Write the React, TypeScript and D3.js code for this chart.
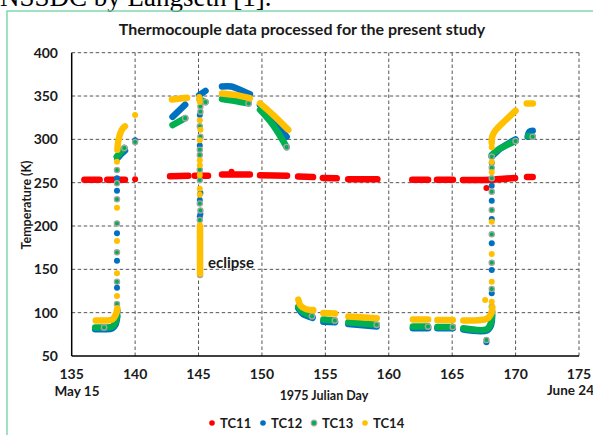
import React from "react";
import * as d3 from "d3";

type Pt = [number, number];

// axis ticks
const xTicks = [135, 140, 145, 150, 155, 160, 165, 170, 175];
const yTicks = [50, 100, 150, 200, 250, 300, 350, 400];
const seriesNames = ["TC11", "TC12", "TC13", "TC14"];

// TC11 (red) - dense runs and single points, [julian day, K]
const tc11Runs: Pt[][] = [
  [[136.0, 253.5], [137.2, 253.5]],
  [[137.8, 253.5], [139.2, 253.5]],
  [[142.75, 257.5], [144.2, 258]],
  [[144.7, 258], [145.75, 258]],
  [[146.85, 259.5], [149.05, 259.5]],
  [[149.85, 258.5], [151.98, 258]],
  [[152.85, 257], [154.03, 256.5]],
  [[154.8, 255.5], [155.9, 255]],
  [[156.8, 254], [159.1, 254]],
  [[161.85, 253.5], [163.1, 253.5]],
  [[163.8, 253.5], [165.06, 253.5]],
  [[165.85, 253], [168.0, 253.5], [169.96, 255.5]],
  [[170.9, 256.5], [171.35, 256.5]],
];
const tc11Dots: Pt[] = [[140.0, 254], [147.6, 262.5], [167.7, 244]];

// TC12 (blue)
const tc12Runs: Pt[][] = [
  [[136.85, 81], [137.6, 81]],
  [[137.75, 81], [138.2, 82], [138.45, 86], [138.6, 96]],
  [[138.6, 278], [138.9, 283], [139.2, 287]],
  [[142.95, 326], [143.95, 340]],
  [[145.05, 351], [145.55, 356]],
  [[146.85, 361], [147.6, 361], [148.3, 357], [149.05, 352]],
  [[149.85, 339.5], [150.9, 322], [151.95, 303]],
  [[152.87, 105], [153.2, 99], [154.0, 94]],
  [[154.84, 89.5], [155.77, 89]],
  [[156.81, 87], [159.05, 84]],
  [[161.9, 82], [163.1, 82]],
  [[163.83, 82], [165.05, 82]],
  [[165.88, 80.5], [167.73, 79.5], [168.05, 85], [168.15, 97]],
  [[168.12, 280], [168.6, 287], [169.3, 294], [170.0, 300]],
  [[170.95, 303], [171.1, 309], [171.35, 310]],
];
const tc12Dots: Pt[] = [
  [138.57, 255], [138.57, 240.7], [138.57, 191.6], [138.57, 160], [138.57, 128.8],
  [140.0, 299],
  [145.1, 328], [145.1, 293], [145.15, 238], [145.1, 230], [145.15, 214], [145.1, 211],
  [168.12, 273], [168.12, 246.5], [168.12, 229.2], [168.12, 208], [168.12, 180],
  [168.12, 149.2], [168.12, 122.3], [167.7, 66],
];

// TC13 (green)
const tc13Runs: Pt[][] = [
  [[136.85, 83], [137.55, 83]],
  [[137.75, 83], [138.2, 84], [138.45, 89], [138.6, 102]],
  [[138.55, 280], [138.85, 285], [139.15, 290]],
  [[142.95, 316.5], [143.95, 324.5]],
  [[145.1, 346], [145.55, 343]],
  [[146.85, 346.5], [148.0, 344], [148.95, 341.5]],
  [[149.85, 334], [150.9, 316], [151.95, 291]],
  [[152.87, 107], [153.2, 101], [153.95, 96]],
  [[154.84, 92], [155.75, 91]],
  [[156.81, 89], [159.05, 86]],
  [[161.9, 84], [163.1, 84]],
  [[163.83, 83.5], [165.05, 83.5]],
  [[165.88, 82], [167.73, 81], [168.05, 88], [168.15, 101]],
  [[168.12, 282], [168.7, 289], [169.4, 294], [170.0, 298]],
  [[171.0, 304], [171.35, 303]],
];
const tc13Dots: Pt[] = [
  [140.0, 297],
  [138.57, 264.6], [138.57, 249.3], [138.57, 230.8], [138.57, 203], [138.57, 169.6],
  [138.57, 135.7], [138.57, 110],
  [145.15, 338], [145.15, 332], [145.1, 315], [145.15, 303], [145.1, 288], [145.1, 282],
  [145.1, 265], [145.1, 253], [145.1, 226], [145.15, 218], [145.1, 207], [145.12, 143.5],
  [168.12, 280], [168.12, 267.3], [168.12, 255], [168.12, 239.6], [168.12, 218.5],
  [168.12, 190.4], [168.12, 157.7], [168.12, 127.3], [168.12, 106.9], [167.7, 68.5],
];

// TC14 (yellow)
const tc14Runs: Pt[][] = [
  [[136.9, 91], [137.6, 91]],
  [[137.8, 91], [138.2, 92], [138.45, 97], [138.6, 105]],
  [[138.6, 288], [138.7, 300], [138.95, 311], [139.2, 315]],
  [[142.9, 346], [144.1, 348]],
  [[145.12, 199], [145.12, 145]],
  [[146.85, 353], [148.0, 351], [149.05, 347.5]],
  [[149.85, 341.5], [150.9, 328], [152.08, 311]],
  [[152.87, 115], [153.05, 108], [153.5, 104], [154.05, 103]],
  [[154.84, 99.5], [155.77, 99]],
  [[156.81, 95.5], [159.05, 93.5]],
  [[161.9, 92], [163.1, 92]],
  [[163.83, 91.5], [165.05, 91.5]],
  [[165.88, 91], [167.73, 93], [168.05, 98], [168.17, 106]],
  [[168.12, 296], [168.15, 303], [168.4, 310], [169.2, 322], [170.0, 333]],
  [[170.88, 341.5], [171.36, 341.5]],
];
const tc14Dots: Pt[] = [
  [140.0, 328],
  [138.57, 274.2], [138.57, 221.1], [138.57, 182.7], [138.57, 145.4], [138.57, 119.2],
  [145.05, 349], [145.1, 347], [145.1, 343], [145.1, 322], [145.15, 311], [145.1, 299],
  [145.1, 276], [145.1, 270], [145.1, 259], [145.1, 243], [145.1, 236], [145.1, 201],
  [145.1, 193], [145.1, 188],
  [167.6, 114.6], [168.12, 290.8], [168.12, 274], [168.12, 262], [168.12, 205],
  [168.12, 167.7], [168.12, 135.7], [168.12, 112.6],
];

const colors = ["#FF0000", "#0070C0", "#00B050", "#FFC000"];
const ring = "#A5A5A5";
const font = "Lato, 'Open Sans', sans-serif";

const App = () => {
  const x = d3.scaleLinear().domain([135, 175]).range([71.7, 579]);
  const y = d3.scaleLinear().domain([50, 400]).range([356, 52.7]);

  const line = d3
    .line<Pt>()
    .x((d) => x(d[0]))
    .y((d) => y(d[1]))
    .curve(d3.curveCatmullRom.alpha(0.5));

  const series = [
    { runs: tc11Runs, dots: tc11Dots },
    { runs: tc12Runs, dots: tc12Dots },
    { runs: tc13Runs, dots: tc13Dots },
    { runs: tc14Runs, dots: tc14Dots },
  ];

  const [x0, x1] = x.range();
  const [y0, y1] = y.range();

  return (
    <svg
      width={593}
      height={435}
      style={{ position: "absolute", left: 0, top: 0, background: "#fff" }}
    >
      <rect x={0} y={0} width={593} height={435} fill="#fff" />
      <text x={0} y={6} fontFamily="'Liberation Serif', serif" fontSize={27}>
        NSSDC by Langseth [1].
      </text>
      <rect x={7} y={11} width={620} height={460} fill="none" stroke="#7dd9ad" strokeWidth={1.5} />

      <text x={302} y={35} textAnchor="middle" fontFamily={font} fontWeight="bold" fontSize={16} fill="#1a1a1a">
        Thermocouple data processed for the present study
      </text>

      {/* grid */}
      {yTicks.filter((t) => t !== 50).map((t) => (
        <line key={"gy" + t} x1={x0} x2={x1} y1={y(t)} y2={y(t)} stroke="#555" strokeWidth={1} strokeDasharray="3.5,2.5" />
      ))}
      {xTicks.filter((t) => t !== 135).map((t) => (
        <line key={"gx" + t} x1={x(t)} x2={x(t)} y1={y0} y2={y1} stroke="#555" strokeWidth={1} strokeDasharray="3.5,2.5" />
      ))}
      <line x1={x0} x2={x0} y1={y1} y2={y0} stroke="#000" strokeWidth={1.5} />
      <line x1={x0} x2={x1} y1={y0} y2={y0} stroke="#000" strokeWidth={1.5} />

      {/* tick labels */}
      {yTicks.map((t) => (
        <text key={"ly" + t} x={58} y={y(t) + 5} textAnchor="end" fontFamily={font} fontWeight="bold" fontSize={14} fill="#1a1a1a">
          {t}
        </text>
      ))}
      {xTicks.map((t) => (
        <text key={"lx" + t} x={x(t)} y={379} textAnchor="middle" fontFamily={font} fontWeight="bold" fontSize={14} fill="#1a1a1a">
          {t}
        </text>
      ))}
      <text x={77} y={396} textAnchor="middle" fontFamily={font} fontWeight="bold" fontSize={13.5} fill="#1a1a1a">
        May 15
      </text>
      <text x={594} y={395} textAnchor="end" fontFamily={font} fontWeight="bold" fontSize={13.5} fill="#1a1a1a">
        June 24
      </text>
      <text x={324} y={400} textAnchor="middle" fontFamily={font} fontWeight="bold" fontSize={12.5} fill="#1a1a1a">
        1975 Julian Day
      </text>
      <text
        transform="translate(31,205) rotate(-90)"
        textAnchor="middle"
        fontFamily={font}
        fontWeight="bold"
        fontSize={12.5}
        fill="#1a1a1a"
      >
        Temperature (K)
      </text>

      {/* data */}
      {series.map((s, i) => (
        <g key={"s" + i}>
          {s.runs.map((r, j) => (
            <path
              key={"r" + j}
              d={line(r) || ""}
              fill="none"
              stroke={colors[i]}
              strokeWidth={6.5}
              strokeLinecap="round"
              strokeLinejoin="round"
            />
          ))}
          {i === 2 &&
            s.runs.map((r, j) => (
              <circle key={"e" + j} cx={x(r[r.length - 1][0])} cy={y(r[r.length - 1][1])} r={2.7} fill={colors[i]} stroke={ring} strokeWidth={1.3} />
            ))}
          {s.dots.map((d, j) => (
            <circle
              key={"d" + j}
              cx={x(d[0])}
              cy={y(d[1])}
              r={i === 2 ? 2.6 : 3}
              fill={colors[i]}
              stroke={i === 2 ? ring : "none"}
              strokeWidth={1.3}
            />
          ))}
        </g>
      ))}

      <text x={208} y={268} fontFamily={font} fontWeight="bold" fontSize={15} fill="#1a1a1a">
        eclipse
      </text>

      {/* legend */}
      {seriesNames.map((n, i) => (
        <g key={n} transform={`translate(${212 + i * 51},423)`}>
          <circle cx={0} cy={0} r={2.8} fill={colors[i]} stroke={i === 2 ? ring : "none"} strokeWidth={1.2} />
          <text x={8} y={4.5} fontFamily={font} fontWeight="bold" fontSize={13} fill="#1a1a1a">
            {n}
          </text>
        </g>
      ))}
    </svg>
  );
};

export default App;
